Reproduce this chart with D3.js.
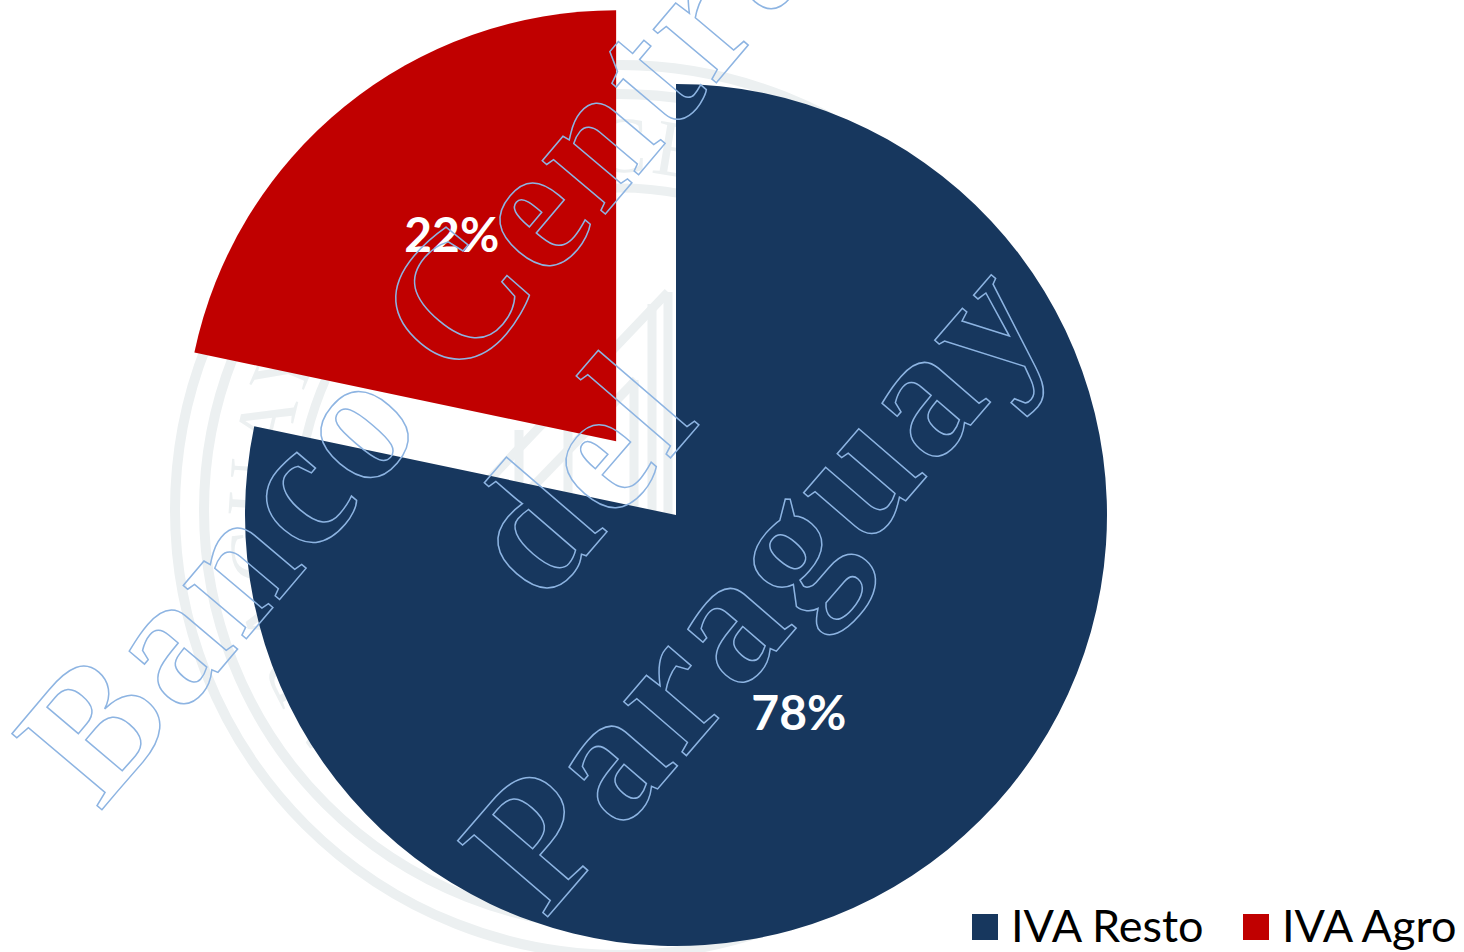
<!DOCTYPE html>
<html>
<head>
<meta charset="utf-8">
<title>IVA</title>
<script src="https://cdn.jsdelivr.net/npm/d3@7"></script>
<style>
  html, body { margin: 0; padding: 0; background: #fff; overflow: hidden; }
  text { font-family: Lato, "Noto Sans", sans-serif; }
</style>
</head>
<body>
<div id="grafico"></div>
<script>
const categorias = ["IVA Resto", "IVA Agro"];
const valores = [78.3, 21.7];
const colores = ["#17375E", "#C00000"];
const marcaAgua = ["Banco Central", "del", "Paraguay"];
const textoLogo = "DEL PARAGUAY BANCO CENTRAL";

const ancho = 1464, alto = 952;
const centro = { x: 676, y: 515 }, radio = 431, separacion = 95;

const svg = d3.select("#grafico").append("svg")
    .attr("width", ancho)
    .attr("height", alto);

// logo de fondo, apenas visible en los huecos de la torta
const logo = svg.append("g")
    .attr("transform", "translate(620,510)")
    .attr("fill", "none")
    .attr("stroke", "#ECF0F1");
[[445, 10], [416, 10], [322, 9]].forEach(([r, w]) => {
    logo.append("circle").attr("r", r).attr("stroke-width", w);
});
const grados = g => (g - 90) * Math.PI / 180;
const curva = d3.path();
curva.arc(0, 0, 338, grados(-170), grados(170));
logo.append("path")
    .attr("id", "arcoLogo")
    .attr("stroke", "none")
    .attr("d", curva.toString());
logo.append("text")
    .attr("fill", "#ECF0F1")
    .attr("stroke", "none")
    .style("font-family", "Liberation Serif")
    .style("font-size", "80px")
    .style("letter-spacing", "3px")
    .append("textPath")
    .attr("href", "#arcoLogo")
    .text(textoLogo);
// templo del logo
const templo = svg.append("g").attr("fill", "none").attr("stroke", "#ECF0F1").attr("stroke-width", 9);
["M668,292L470,500", "M636,380L520,500", "M519,430V520", "M568,395V530", "M634,380V530", "M652,304V530", "M668,292V530"]
    .forEach(d => templo.append("path").attr("d", d));

const pie = d3.pie().sort(null).value(d => d);
const arco = d3.arc().innerRadius(0).outerRadius(radio);
const tajadas = pie(valores);

// la tajada de Agro va separada del centro
const desplazamiento = (d, i) => {
    if (i !== 1) return [0, 0];
    const medio = (d.startAngle + d.endAngle) / 2;
    return [Math.sin(medio) * separacion, -Math.cos(medio) * separacion];
};

const torta = svg.append("g").attr("transform", `translate(${centro.x},${centro.y})`);

torta.selectAll("path")
    .data(tajadas)
    .enter()
    .append("path")
    .attr("d", arco)
    .attr("transform", (d, i) => `translate(${desplazamiento(d, i)})`)
    .attr("fill", (_, i) => colores[i]);

const ajusteEtiqueta = [[-24, 17], [2, -2]];
const arcoEtiqueta = d3.arc().innerRadius(233).outerRadius(233);
const arcoEtiquetaAgro = d3.arc().innerRadius(264).outerRadius(264);

torta.selectAll("text")
    .data(tajadas)
    .enter()
    .append("text")
    .attr("transform", (d, i) => {
        const c = (i === 0 ? arcoEtiqueta : arcoEtiquetaAgro).centroid(d);
        const m = desplazamiento(d, i);
        return `translate(${c[0] + m[0] + ajusteEtiqueta[i][0]},${c[1] + m[1] + ajusteEtiqueta[i][1]})`;
    })
    .attr("text-anchor", "middle")
    .attr("dy", "0.36em")
    .attr("fill", "#fff")
    .style("font-size", "48px")
    .style("font-weight", 700)
    .text(d => d3.format(".0f")(d.value) + "%");

// leyenda
const leyenda = svg.append("g");
const xLeyenda = d3.scaleOrdinal().domain(categorias).range([972, 1243]);
categorias.forEach((c, i) => {
    leyenda.append("rect")
        .attr("x", xLeyenda(c))
        .attr("y", 914)
        .attr("width", 26)
        .attr("height", 26)
        .attr("fill", colores[i]);
    leyenda.append("text")
        .attr("x", xLeyenda(c) + 39)
        .attr("y", 942)
        .attr("fill", "#000")
        .style("font-size", "45px")
        .text(c);
});

// marca de agua, solo contorno
const origenes = [[100, 812], [543, 606], [545, 920]];
const giros = [-49.8, -49.3, -49.3];
svg.selectAll("text.agua")
    .data(marcaAgua)
    .enter()
    .append("text")
    .attr("class", "agua")
    .attr("transform", (_, i) => `translate(${origenes[i]}) rotate(${giros[i]})`)
    .attr("fill", "none")
    .attr("stroke", "#8DB4E2")
    .attr("stroke-width", 1.5)
    .style("font-family", "Liberation Serif")
    .style("font-weight", 700)
    .style("font-size", "180px")
    .style("letter-spacing", "6px")
    .style("word-spacing", "-5px")
    .text(d => d);
</script>
</body>
</html>
